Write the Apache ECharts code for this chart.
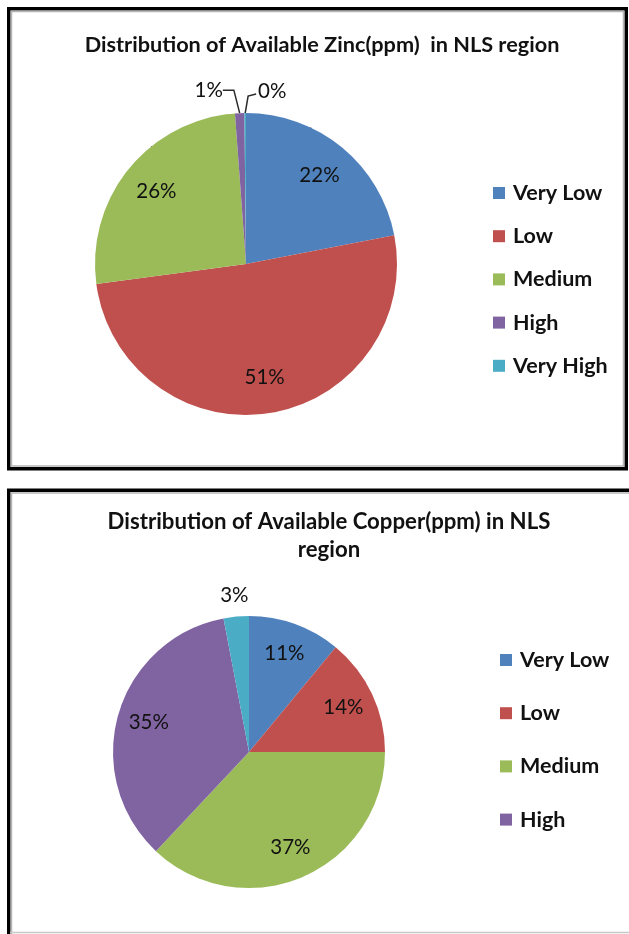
<!DOCTYPE html>
<html>
<head>
<meta charset="utf-8">
<script src="https://cdn.jsdelivr.net/npm/echarts@6/dist/echarts.min.js"></script>
<style>
  html, body { margin: 0; padding: 0; background: #fff; }
  #chart { width: 629px; height: 934px; }
</style>
</head>
<body>
<div id="chart"></div>
<script>
// Soil micronutrient classes and their share of samples (%)
const zincCategories = ['Very Low', 'Low', 'Medium', 'High', 'Very High'];
const zincValues = [22, 51, 26, 1, 0];
const copperCategories = ['Very Low', 'Low', 'Medium', 'High', 'Very High'];
const copperValues = [11, 14, 37, 35, 3];
const copperLegend = ['Very Low', 'Low', 'Medium', 'High'];

const palette = ['#4F81BD', '#C0504D', '#9BBB59', '#8064A2', '#4BACC6'];
const FONT = 'Lato';

const zincCenter = [246, 264], zincRadius = 151;
const copperCenter = [249, 752], copperRadius = 136;

// slices whose labels sit outside the pie
const zincOutside = ['High', 'Very High'];
const copperOutside = ['Very High'];

function buildData(names, values, outside, lineShown) {
  return names.map((n, i) => {
    const item = { name: n, value: values[i], itemStyle: { color: palette[i] } };
    if (outside.includes(n)) {
      item.label = { position: 'outside' };
      item.labelLine = { show: lineShown };
    }
    return item;
  });
}

// push inside labels out from mid-radius towards the rim
function pushOut(p, center, k) {
  const r = p.labelRect;
  const lx = r.x + r.width / 2, ly = r.y + r.height / 2;
  return {
    x: center[0] + (lx - center[0]) * k,
    y: center[1] + (ly - center[1]) * k,
    align: 'center', verticalAlign: 'middle'
  };
}

const chart = echarts.init(document.getElementById('chart'), null, { renderer: 'canvas' });

const legendText = { fontFamily: FONT, fontWeight: 'bold', fontSize: 21.5, color: '#111', padding: [0, 0, 0, 3] };
const labelText = { fontFamily: FONT, fontSize: 20.5, color: '#111' };

chart.setOption({
  backgroundColor: '#fff',
  animation: false,
  title: [
    {
      text: 'Distribution of Available Zinc(ppm)  in NLS region',
      left: 317, top: 29, textAlign: 'center',
      textStyle: { fontFamily: FONT, fontWeight: 'bold', fontSize: 21.7, color: '#111' }
    },
    {
      text: 'Distribution of Available Copper(ppm) in NLS\nregion',
      left: 324, top: 503, textAlign: 'center',
      textStyle: { fontFamily: FONT, fontWeight: 'bold', fontSize: 22.2, lineHeight: 28, color: '#111' }
    }
  ],
  legend: [
    {
      orient: 'vertical', left: 493, top: 182, padding: 0,
      itemWidth: 12, itemHeight: 12, itemGap: 21.2, icon: 'rect',
      data: zincCategories,
      textStyle: legendText
    },
    {
      orient: 'vertical', left: 500, top: 649, padding: 0,
      itemWidth: 12, itemHeight: 12, itemGap: 31.2, icon: 'rect',
      data: copperLegend,
      textStyle: legendText
    }
  ],
  graphic: [
    // frame of the zinc panel
    { type: 'rect', shape: { x: 8.75, y: 8.75, width: 617.5, height: 460 },
      style: { fill: 'none', stroke: '#000', lineWidth: 3.5 }, silent: true },
    { type: 'rect', shape: { x: 11.5, y: 11.5, width: 612, height: 454.5 },
      style: { fill: 'none', stroke: '#b5b5b5', lineWidth: 1.5 }, silent: true },
    // frame of the copper panel (runs past the right and bottom edge)
    { type: 'polyline', shape: { points: [[8.75, 940], [8.75, 490.25], [640, 490.25]] },
      style: { fill: 'none', stroke: '#000', lineWidth: 3.5 }, silent: true },
    { type: 'polyline', shape: { points: [[11.5, 940], [11.5, 493], [640, 493]] },
      style: { fill: 'none', stroke: '#b5b5b5', lineWidth: 1.5 }, silent: true },
    { type: 'line', shape: { x1: 10, y1: 932.5, x2: 640, y2: 932.5 },
      style: { stroke: '#c8c8c8', lineWidth: 1.5 }, silent: true }
  ],
  series: [
    {
      name: 'Zinc',
      type: 'pie',
      center: zincCenter,
      radius: zincRadius,
      startAngle: 90,
      clockwise: true,
      minAngle: 0.6,
      percentPrecision: 0,
      avoidLabelOverlap: false,
      itemStyle: { borderWidth: 0 },
      label: Object.assign({ position: 'inside', formatter: '{d}%' }, labelText),
      labelLine: { length: 20, length2: 11, lineStyle: { color: '#2a2a2a', width: 1.5 } },
      labelLayout: function (p) {
        const name = zincCategories[p.dataIndex];
        if (!zincOutside.includes(name)) return pushOut(p, zincCenter, 1.47);
        if (name === 'Very High' && p.labelLinePoints) {
          // turn this leader to the right
          const pts = p.labelLinePoints;
          const end = [pts[1][0] + Math.abs(pts[2][0] - pts[1][0]), pts[2][1] + 1];
          return {
            x: end[0] + 2, y: end[1] - 3, align: 'left', verticalAlign: 'middle',
            labelLinePoints: [pts[0], [pts[1][0] + 3, pts[1][1] + 3], end]
          };
        }
        const r = p.labelRect;
        return { x: r.x + r.width, y: r.y + r.height / 2 - 3, align: 'right', verticalAlign: 'middle' };
      },
      data: buildData(zincCategories, zincValues, zincOutside, true)
    },
    {
      name: 'Copper',
      type: 'pie',
      center: copperCenter,
      radius: copperRadius,
      startAngle: 90,
      clockwise: true,
      percentPrecision: 0,
      avoidLabelOverlap: false,
      itemStyle: { borderWidth: 0 },
      label: Object.assign({ position: 'inside', formatter: '{d}%' }, labelText),
      labelLine: { length: 20, length2: 0 },
      labelLayout: function (p) {
        const name = copperCategories[p.dataIndex];
        if (!copperOutside.includes(name)) return pushOut(p, copperCenter, 1.47);
        const r = p.labelRect;
        return { x: r.x + r.width + 5, y: r.y + r.height / 2 - 1, align: 'center', verticalAlign: 'middle' };
      },
      data: buildData(copperCategories, copperValues, copperOutside, false)
    }
  ]
});
</script>
</body>
</html>
